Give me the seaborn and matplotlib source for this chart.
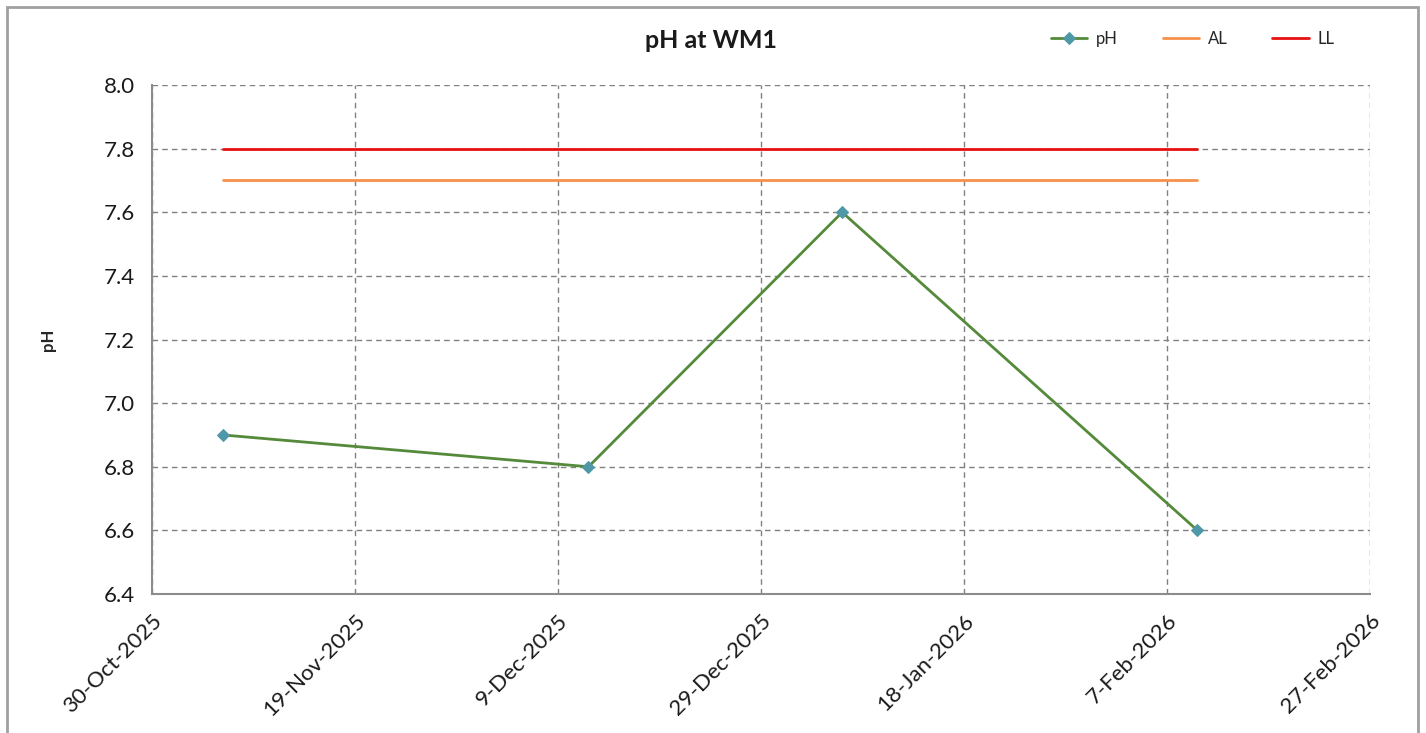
import matplotlib
matplotlib.use("Agg")
import matplotlib.pyplot as plt
import seaborn as sns
import pandas as pd
from matplotlib.patches import Rectangle

# sample dates and readings
sample_dates = ["2025-11-06", "2025-12-12", "2026-01-06", "2026-02-10"]
ph_values = [6.9, 6.8, 7.6, 6.6]

# limit lines
limit_dates = ["2025-11-06", "2026-02-10"]
al_values = [7.7, 7.7]
ll_values = [7.8, 7.8]

y_ticks = [6.4, 6.6, 6.8, 7.0, 7.2, 7.4, 7.6, 7.8, 8.0]
x_ticks = ["2025-10-30", "2025-11-19", "2025-12-09", "2025-12-29",
           "2026-01-18", "2026-02-07", "2026-02-27"]

ph_df = pd.DataFrame({"Date": pd.to_datetime(sample_dates), "pH": ph_values})
lim_df = pd.DataFrame({"Date": pd.to_datetime(limit_dates), "AL": al_values, "LL": ll_values})

sns.set_style("white")
plt.rcParams["font.family"] = ["Lato", "DejaVu Sans"]

fig = plt.figure(figsize=(14.26, 7.33), dpi=100)
ax = fig.add_axes([0.1066, 0.1896, 0.8541, 0.6944])

# outer frame
fig.patches.append(Rectangle((7 / 1426, -0.05), 1411 / 1426, 1.05 - 7 / 733,
                             transform=fig.transFigure, fill=False,
                             edgecolor="#a0a0a0", linewidth=2))

sns.lineplot(data=ph_df, x="Date", y="pH", ax=ax, color="#548a3a", linewidth=2,
             marker="D", markersize=6, markerfacecolor="#4f98a8",
             markeredgecolor="#4f98a8", label="pH")
sns.lineplot(data=lim_df, x="Date", y="AL", ax=ax, color="#f7904a", linewidth=2, label="AL")
sns.lineplot(data=lim_df, x="Date", y="LL", ax=ax, color="#e81010", linewidth=2, label="LL")

ax.set_ylim(6.4, 8.0)
ax.set_yticks(y_ticks)
ax.set_yticklabels([f"{v:.1f}" for v in y_ticks])
xt = pd.to_datetime(x_ticks)
ax.set_xlim(xt[0], xt[-1])
ax.set_xticks(xt)
ax.set_xticklabels([d.strftime("%-d-%b-%Y") for d in xt], rotation=45,
                   ha="right", rotation_mode="anchor")

ax.grid(True, linestyle=(0, (4, 3)), color="#808080", linewidth=1)
for side in ["top", "right"]:
    ax.spines[side].set_visible(False)
for side in ["left", "bottom"]:
    ax.spines[side].set_color("#8c8c8c")
    ax.spines[side].set_linewidth(1.5)
ax.tick_params(axis="both", direction="out", length=8, width=1.2, color="#8c8c8c",
               labelsize=16, labelcolor="#1a1a1a", pad=4)

ax.set_xlabel("")
ax.set_ylabel("pH", fontsize=12, fontweight="bold")
ax.yaxis.set_label_coords(-0.079, 0.5)

fig.text(0.4985, 0.945, "pH at WM1", ha="center", va="center",
         fontsize=18, fontweight="bold", color="#1a1a1a")

ax.legend(loc="upper right", bbox_to_anchor=(0.983, 1.135), ncol=3, frameon=False,
          fontsize=12, handlelength=2.2, columnspacing=2.7, handletextpad=0.5)

plt.savefig("out.png", dpi=100)
